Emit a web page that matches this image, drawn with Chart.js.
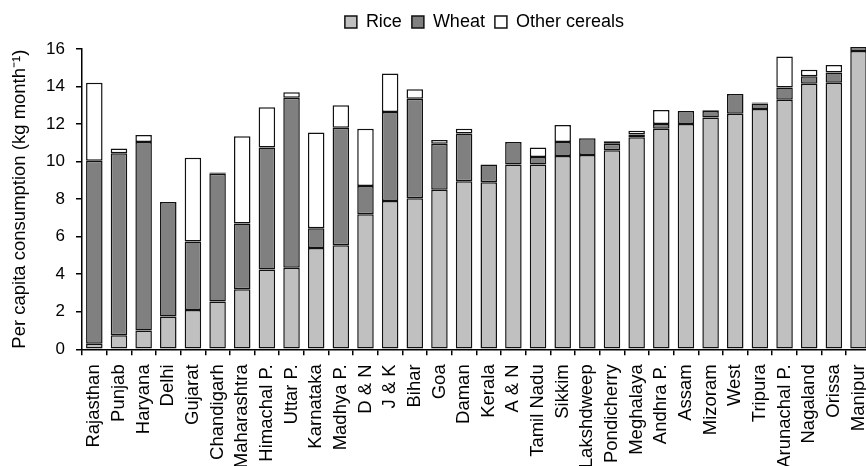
<!DOCTYPE html>
<html>
<head>
<meta charset="utf-8">
<script src="https://cdn.jsdelivr.net/npm/chart.js@4/dist/chart.umd.min.js"></script>
<style>
  html, body { margin: 0; padding: 0; background: #fff; overflow: hidden; }
  #wrap { width: 890px; height: 466px; }
</style>
</head>
<body>
<div id="wrap"><canvas id="mycanvas" width="890" height="466"></canvas></div>
<script>
var states = ['Rajasthan', 'Punjab', 'Haryana', 'Delhi', 'Gujarat', 'Chandigarh', 'Maharashtra',
  'Himachal P.', 'Uttar P.', 'Karnataka', 'Madhya P.', 'D & N', 'J & K', 'Bihar', 'Goa', 'Daman',
  'Kerala', 'A & N', 'Tamil Nadu', 'Sikkim', 'Lakshdweep', 'Pondicherry', 'Meghalaya', 'Andhra P.',
  'Assam', 'Mizoram', 'West', 'Tripura', 'Arunachal P.', 'Nagaland', 'Orissa', 'Manipur'];

var rice = [0.3, 0.75, 1.0, 1.75, 2.1, 2.55, 3.2, 4.25, 4.35, 5.4, 5.55, 7.2, 7.9, 8.05, 8.5, 8.95,
  8.9, 9.85, 9.85, 10.3, 10.35, 10.6, 11.3, 11.75, 12.0, 12.35, 12.55, 12.8, 13.3, 14.15, 14.2, 15.9];

var wheat = [9.75, 9.7, 10.05, 6.1, 3.65, 6.8, 3.5, 6.5, 9.05, 1.05, 6.25, 1.5, 4.75, 5.3, 2.45, 2.55,
  0.95, 1.2, 0.4, 0.75, 0.9, 0.35, 0.15, 0.25, 0.7, 0.35, 1.05, 0.3, 0.65, 0.4, 0.55, 0.2];

var other = [4.15, 0.25, 0.37, null, 4.45, 0.07, 4.65, 2.15, 0.3, 5.1, 1.2, 3.05, 2.05, 0.5, 0.2, 0.25,
  null, null, 0.5, 0.9, null, 0.13, 0.2, 0.75, null, 0.03, null, 0.05, 1.65, 0.35, 0.4, null];

var yTicks = [0, 2, 4, 6, 8, 10, 12, 14, 16];

Chart.defaults.font.family = '"Liberation Sans", Arial, Helvetica, sans-serif';
Chart.defaults.color = '#000';

// leave some room between the legend and the plot, nudge it a little right
var legendGap = {
  id: 'legendGap',
  beforeLayout: function(chart) {
    var lg = chart.legend;
    if (lg && !lg._gap) {
      var fit = lg.fit;
      lg.fit = function() { fit.call(this); this.height += 8; };
      lg._gap = true;
    }
  },
  afterLayout: function(chart) {
    chart.legend.left += 8;
    chart.legend.right += 8;
  }
};

function bars(label, data, color) {
  return {
    label: label,
    data: data,
    backgroundColor: color,
    borderColor: '#111',
    borderWidth: 1.5,
    borderSkipped: false,
    barPercentage: 0.67,
    categoryPercentage: 1.0,
    clip: false
  };
}

var chartdata = {
  labels: states,
  datasets: [
    bars('Rice', rice, '#c0c0c0'),
    bars('Wheat', wheat, '#808080'),
    bars('Other cereals', other, '#ffffff')
  ]
};

var ctx = document.getElementById('mycanvas');
var barGraph = new Chart(ctx, {
  type: 'bar',
  data: chartdata,
  plugins: [legendGap],
  options: {
    responsive: false,
    animation: false,
    devicePixelRatio: 1,
    layout: { padding: { top: 3, right: 16, bottom: 0, left: 0 } },
    plugins: {
      tooltip: { enabled: false },
      legend: {
        position: 'top',
        fullSize: false,
        labels: {
          boxWidth: 12,
          boxHeight: 12,
          padding: 10,
          font: { size: 18 }
        }
      }
    },
    scales: {
      x: {
        stacked: true,
        afterFit: function(scale) { scale.height = 116.7; },
        grid: {
          offset: true,
          drawOnChartArea: false,
          drawTicks: true,
          tickLength: 6,
          color: '#000',
          lineWidth: 1.5
        },
        border: { display: true, color: '#000', width: 1.5 },
        ticks: {
          autoSkip: false,
          minRotation: 90,
          maxRotation: 90,
          padding: 9,
          font: { size: 18.5 }
        }
      },
      y: {
        stacked: true,
        min: 0,
        max: 16,
        afterFit: function(scale) { scale.width = 82; },
        afterBuildTicks: function(scale) {
          scale.ticks = yTicks.map(function(v) { return { value: v }; });
        },
        grid: {
          drawOnChartArea: false,
          drawTicks: true,
          tickLength: 6,
          color: '#000',
          lineWidth: 1.5
        },
        border: { display: true, color: '#000', width: 1.5 },
        ticks: {
          padding: 11,
          font: { size: 17 }
        },
        title: {
          display: true,
          text: 'Per capita consumption (kg month\u207B\u00B9)',
          font: { size: 18.5 },
          padding: { top: 9, bottom: 0 }
        }
      }
    }
  }
});
</script>
</body>
</html>
